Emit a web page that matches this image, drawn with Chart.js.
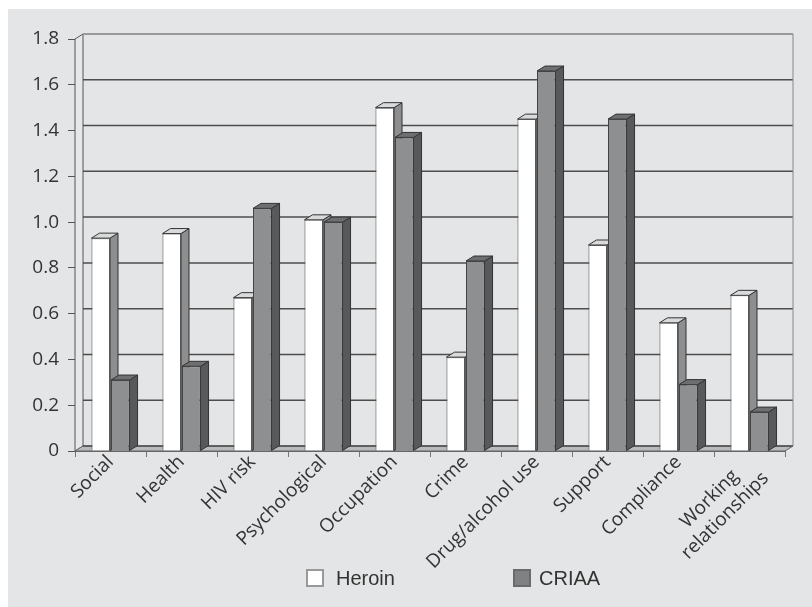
<!DOCTYPE html>
<html>
<head>
<meta charset="utf-8">
<script src="https://cdn.jsdelivr.net/npm/chart.js@4"></script>
<style>
  body { margin: 0; background: #fff; }
  #wrap { position: relative; width: 812px; height: 607px; }
  #panel { position: absolute; left: 8px; top: 9px; right: 0; bottom: 0; background: #e4e5e6; }
  #chart { position: absolute; left: 0; top: 0; }
  .key { position: absolute; top: 569px; width: 14px; height: 14px; border: 2px solid #999; }
  .key-label { position: absolute; top: 567px; font: 20px "Liberation Sans", Arial, sans-serif; color: #333; }
</style>
</head>
<body>
<div id="wrap">
  <div id="panel"></div>
  <canvas id="chart" width="812" height="607"></canvas>
  <div class="key" style="left:306px;background:#fff;"></div>
  <div class="key-label" style="left:336px;">Heroin</div>
  <div class="key" style="left:513px;background:#808183;border-color:#6a6a6a;"></div>
  <div class="key-label" style="left:539px;">CRIAA</div>
</div>
<script>
// trailing spaces keep "Working" centred over the second line once rotated
const categories = ["Social", "Health", "HIV risk", "Psychological", "Occupation", "Crime",
  "Drug/alcohol use", "Support", "Compliance", ["Working    ", "relationships"]];
const heroin = [0.93, 0.95, 0.67, 1.01, 1.50, 0.41, 1.45, 0.90, 0.56, 0.68];
const criaa = [0.31, 0.37, 1.06, 1.00, 1.37, 0.83, 1.66, 1.45, 0.29, 0.17];
const yTicks = [0, 0.2, 0.4, 0.6, 0.8, 1.0, 1.2, 1.4, 1.6, 1.8];

// depth of the fake 3D look
const DX = 8, DY = 5;
const sideColors = [
  { side: "#8d8e90", top: "#d9dadb" },
  { side: "#58595b", top: "#6e6f71" },
];

function poly(ctx, pts, fill, stroke) {
  ctx.beginPath();
  ctx.moveTo(pts[0][0], pts[0][1]);
  for (let i = 1; i < pts.length; i++) ctx.lineTo(pts[i][0], pts[i][1]);
  ctx.closePath();
  ctx.fillStyle = fill;
  ctx.fill();
  ctx.strokeStyle = stroke;
  ctx.lineWidth = 1;
  ctx.stroke();
}

const box3d = {
  id: "box3d",
  beforeDatasetsDraw(chart) {
    const ctx = chart.ctx;
    const area = chart.chartArea;
    const y = chart.scales.y;
    ctx.save();
    // left wall and floor
    poly(ctx, [[area.left, area.bottom], [area.left, area.top], [area.left + DX, area.top - DY],
      [area.left + DX, area.bottom - DY]], "#e6e7e8", "#555");
    poly(ctx, [[area.left, area.bottom], [area.right, area.bottom], [area.right + DX, area.bottom - DY],
      [area.left + DX, area.bottom - DY]], "#b9babc", "#666");
    // back wall grid lines
    yTicks.forEach(v => {
      const py = y.getPixelForValue(v) - DY;
      ctx.beginPath();
      ctx.moveTo(area.left + DX, py);
      ctx.lineTo(area.right + DX, py);
      ctx.strokeStyle = v === 1.8 ? "#9a9a9a" : "#4d4d4d";
      ctx.lineWidth = v === 1.8 ? 2 : 1.5;
      ctx.stroke();
    });
    ctx.beginPath();
    ctx.moveTo(area.right + DX, area.top - DY);
    ctx.lineTo(area.right + DX, area.bottom - DY);
    ctx.strokeStyle = "#888";
    ctx.lineWidth = 1;
    ctx.stroke();
    // side and top faces of the bars
    chart.data.datasets.forEach((ds, di) => {
      const meta = chart.getDatasetMeta(di);
      meta.data.forEach(bar => {
        const l = bar.x - bar.width / 2, r = bar.x + bar.width / 2;
        poly(ctx, [[r, bar.y], [r + DX, bar.y - DY], [r + DX, bar.base - DY], [r, bar.base]],
          sideColors[di].side, "#333");
        poly(ctx, [[l, bar.y], [l + DX, bar.y - DY], [r + DX, bar.y - DY], [r, bar.y]],
          sideColors[di].top, "#333");
      });
    });
    ctx.restore();
  }
};

new Chart(document.getElementById("chart").getContext("2d"), {
  type: "bar",
  data: {
    labels: categories,
    datasets: [{
        label: "Heroin",
        data: heroin,
        backgroundColor: "#ffffff",
        borderColor: "#555",
        borderWidth: 1,
      },
      {
        label: "CRIAA",
        data: criaa,
        backgroundColor: "#8e8f91",
        borderColor: "#444",
        borderWidth: 1,
      },
    ],
  },
  options: {
    responsive: false,
    animation: false,
    categoryPercentage: 0.55,
    barPercentage: 0.95,
    layout: { padding: { top: 39, right: 27, bottom: 0, left: 0 } },
    plugins: {
      legend: { display: false },
      tooltip: { enabled: false },
    },
    scales: {
      x: {
        afterFit: (scale) => { scale.height = 156; },
        grid: { display: true, drawOnChartArea: false, offset: true, tickLength: 6, color: "#777" },
        border: { display: true, color: "#666" },
        ticks: {
          color: "#333",
          font: { family: "'Open Sans', sans-serif", size: 19 },
          minRotation: 45,
          maxRotation: 45,
          autoSkip: false,
          padding: -6,
          labelOffset: 0,
        },
      },
      y: {
        min: 0,
        max: 1.8,
        afterFit: (scale) => { scale.width = 75; },
        afterBuildTicks: (scale) => { scale.ticks = yTicks.map(v => ({ value: v })); },
        grid: { display: true, drawOnChartArea: false, tickLength: 7, color: "#555" },
        border: { display: true, color: "#555" },
        ticks: {
          color: "#333",
          font: { family: "'Open Sans', sans-serif", size: 19 },
          padding: 9,
          callback: (v) => v === 0 ? "0" : v.toFixed(1),
        },
      },
    },
  },
  plugins: [box3d],
});
</script>
</body>
</html>
